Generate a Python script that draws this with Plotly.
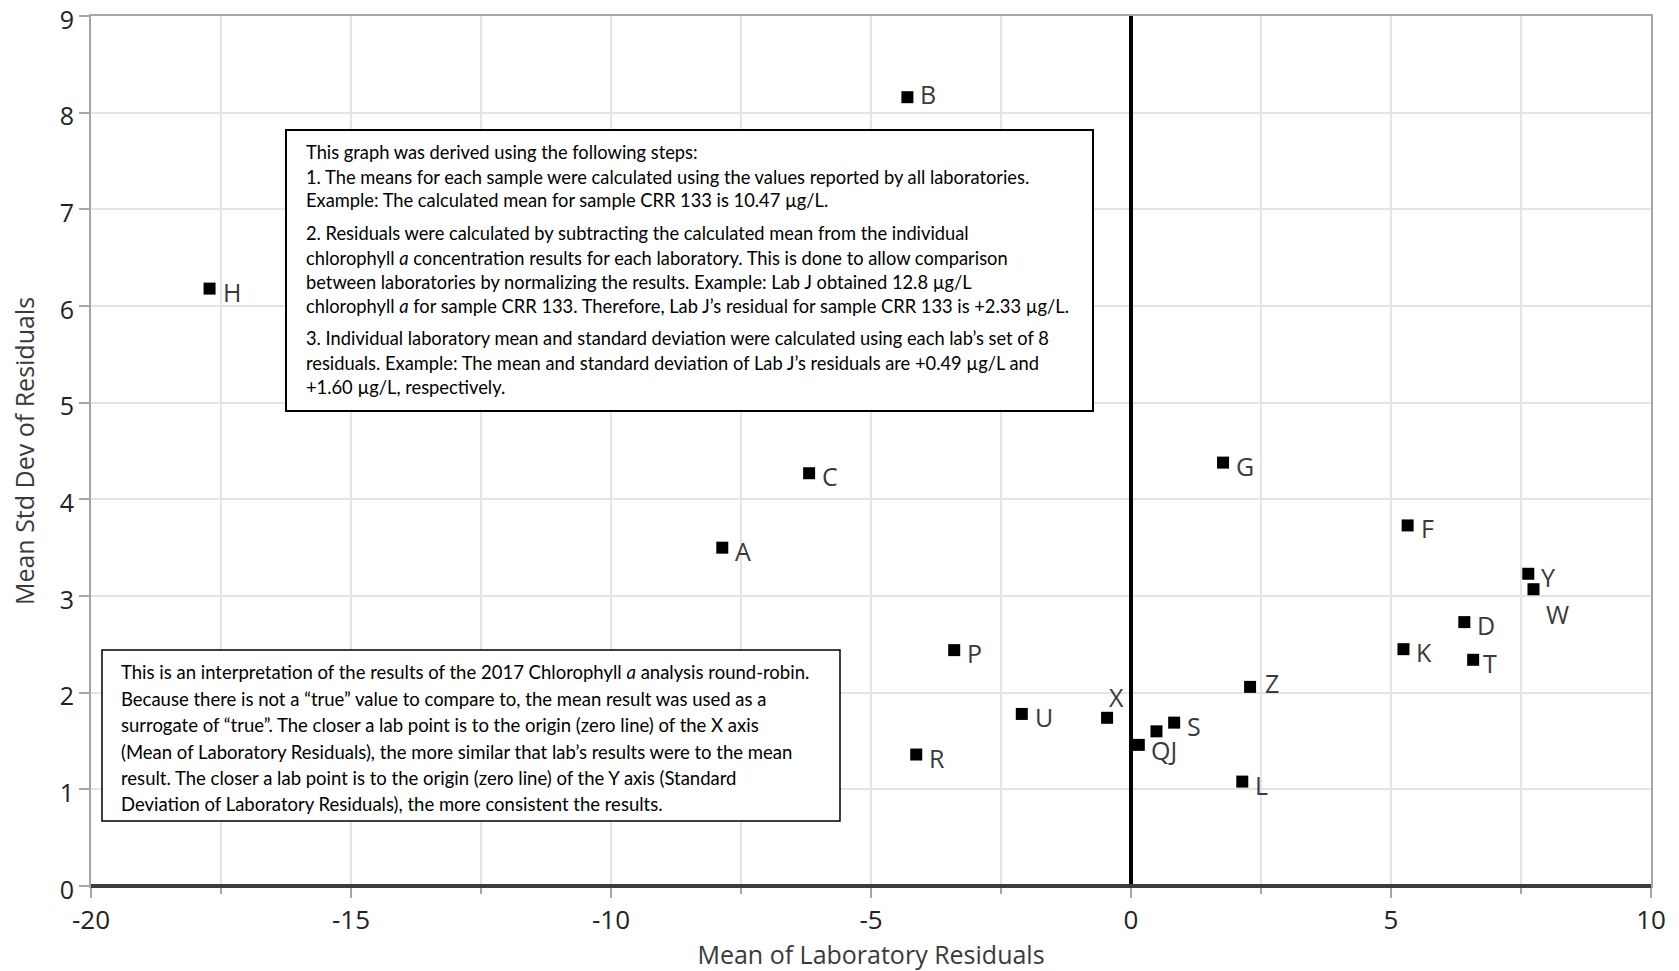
import plotly.graph_objects as go

# ---------------- data ----------------
labs = ["A", "B", "C", "D", "F", "G", "H", "J", "K", "L",
        "P", "Q", "R", "S", "T", "U", "W", "X", "Y", "Z"]
mean_resid = [-7.86, -4.30, -6.19, 6.41, 5.32, 1.77, -17.72, 0.49, 5.24, 2.14,
              -3.40, 0.15, -4.13, 0.83, 6.58, -2.10, 7.74, -0.46, 7.64, 2.29]
sd_resid = [3.50, 8.16, 4.27, 2.73, 3.73, 4.38, 6.18, 1.60, 2.45, 1.08,
            2.44, 1.46, 1.36, 1.69, 2.34, 1.78, 3.07, 1.74, 3.23, 2.06]
# text shown beside each marker (J shares the "QJ" label with Q)
point_text = ["A", "B", "C", "D", "F", "G", "H", "", "K", "L",
              "P", "QJ", "R", "S", "T", "U", "W", "X", "Y", "Z"]

x_ticks = [-20, -15, -10, -5, 0, 5, 10]
y_ticks = [0, 1, 2, 3, 4, 5, 6, 7, 8, 9]

box1_lines = [
    "This graph was derived using the following steps:",
    "1. The means for each sample were calculated using the values reported by all laboratories.",
    "Example: The calculated mean for sample CRR 133 is 10.47 µg/L.",
    "2. Residuals were calculated by subtracting the calculated mean from the individual",
    "chlorophyll <i>a</i> concentration results for each laboratory. This is done to allow comparison",
    "between laboratories by normalizing the results. Example: Lab J obtained 12.8 µg/L",
    "chlorophyll <i>a</i> for sample CRR 133. Therefore, Lab J’s residual for sample CRR 133 is +2.33 µg/L.",
    "3. Individual laboratory mean and standard deviation were calculated using each lab’s set of 8",
    "residuals. Example: The mean and standard deviation of Lab J’s residuals are +0.49 µg/L and",
    "+1.60 µg/L, respectively.",
]
box2_lines = [
    "This is an interpretation of the results of the 2017 Chlorophyll <i>a</i> analysis round-robin.",
    "Because there is not a “true” value to compare to, the mean result was used as a",
    "surrogate of “true”. The closer a lab point is to the origin (zero line) of the X axis",
    "(Mean of Laboratory Residuals), the more similar that lab’s results were to the mean",
    "result. The closer a lab point is to the origin (zero line) of the Y axis (Standard",
    "Deviation of Laboratory Residuals), the more consistent the results.",
]

# ---------------- layout helpers (pixel -> paper) ----------------
W, H = 1679, 971
ML, MR, MT, MB = 91, 28, 16, 85
PW, PH = W - ML - MR, H - MT - MB


def px(xp):
    return (xp - ML) / PW


def py(yp):
    return (H - MB - yp) / PH


# per-label pixel shifts (style)
label_shift = {"W": (11, -25), "X": (0, 21), "Z": (13, 4), "QJ": (10, -5),
               "T": (8, -3), "B": (11, 3)}

fig = go.Figure()
fig.add_trace(go.Scatter(
    x=mean_resid, y=sd_resid, mode="markers",
    marker=dict(symbol="square", size=12, color="black"),
    hovertext=labs, showlegend=False,
))

annotations = []
for xv, yv, t in zip(mean_resid, sd_resid, point_text):
    if not t:
        continue
    dx, dy = label_shift.get(t, (11, -3))
    annotations.append(dict(
        x=xv, y=yv, xref="x", yref="y", text=t, showarrow=False,
        xanchor="left", yanchor="middle", xshift=dx, yshift=dy,
        font=dict(family="Open Sans", size=25, color="#3a3a3a"),
    ))

# text boxes
box1 = (286, 130, 1093, 411)
box2 = (102, 650, 840, 821)
shapes = []
for (x0, y0, x1, y1), lw in ((box1, 2), (box2, 1.5)):
    shapes.append(dict(type="rect", xref="paper", yref="paper",
                       x0=px(x0), x1=px(x1), y0=py(y1), y1=py(y0),
                       line=dict(color="black", width=lw), fillcolor="white",
                       layer="above"))

box1_y = [152, 177, 200, 233, 258, 282, 306, 338, 363, 387]
box2_y = [672, 699, 725, 752, 778, 804]
for lines, ys, xl, fs in ((box1_lines, box1_y, 304, 18.3), (box2_lines, box2_y, 119, 18.5)):
    for line, yl in zip(lines, ys):
        annotations.append(dict(
            x=px(xl), y=py(yl), xref="paper", yref="paper", text=line,
            showarrow=False, xanchor="left", yanchor="middle",
            font=dict(family="Lato", size=fs, color="black"),
        ))

# bottom (dark) axis line
shapes.append(dict(type="line", xref="paper", yref="paper", x0=0, x1=1, y0=0, y1=0,
                   line=dict(color="#3c3c3c", width=4), layer="above"))

fig.update_layout(
    width=W, height=H,
    margin=dict(l=ML, r=MR, t=MT, b=MB, autoexpand=False),
    paper_bgcolor="white", plot_bgcolor="white",
    font=dict(family="Open Sans", color="#222"),
    xaxis=dict(
        range=[-20, 10], tickvals=x_ticks, ticktext=[str(v) for v in x_ticks],
        automargin=False,
        showgrid=True, gridcolor="#e4e4e4", gridwidth=2,
        zeroline=True, zerolinecolor="black", zerolinewidth=4,
        showline=True, linecolor="#a6a6a6", linewidth=2, mirror=True,
        ticks="outside", ticklen=10, tickwidth=2, tickcolor="#a6a6a6",
        minor=dict(dtick=2.5, tick0=0, showgrid=True, gridcolor="#e4e4e4", gridwidth=2,
                   ticks="outside", ticklen=6, tickwidth=2, tickcolor="#a6a6a6"),
        tickfont=dict(family="Open Sans", size=26, color="#222"),
        title=dict(text="Mean of Laboratory Residuals", standoff=10,
                   font=dict(family="Open Sans", size=25, color="#3a3a3a")),
    ),
    yaxis=dict(
        range=[0, 9], tickvals=y_ticks, ticktext=[str(v) for v in y_ticks],
        automargin=False, ticklabeloverflow="allow", ticklabelshift=4,
        showgrid=True, gridcolor="#e4e4e4", gridwidth=2, zeroline=False,
        showline=True, linecolor="#a6a6a6", linewidth=2, mirror=True,
        ticks="outside", ticklen=10, tickwidth=2, tickcolor="#a6a6a6",
        tickfont=dict(family="Open Sans", size=25, color="#222"),
        title=dict(text="Mean Std Dev of Residuals", standoff=18,
                   font=dict(family="Open Sans", size=25, color="#3a3a3a")),
    ),
    shapes=shapes,
    annotations=annotations,
)

fig.write_html("out.html", config={"displayModeBar": False},
               post_script="document.body.style.margin='0';document.body.style.overflow='hidden';")
